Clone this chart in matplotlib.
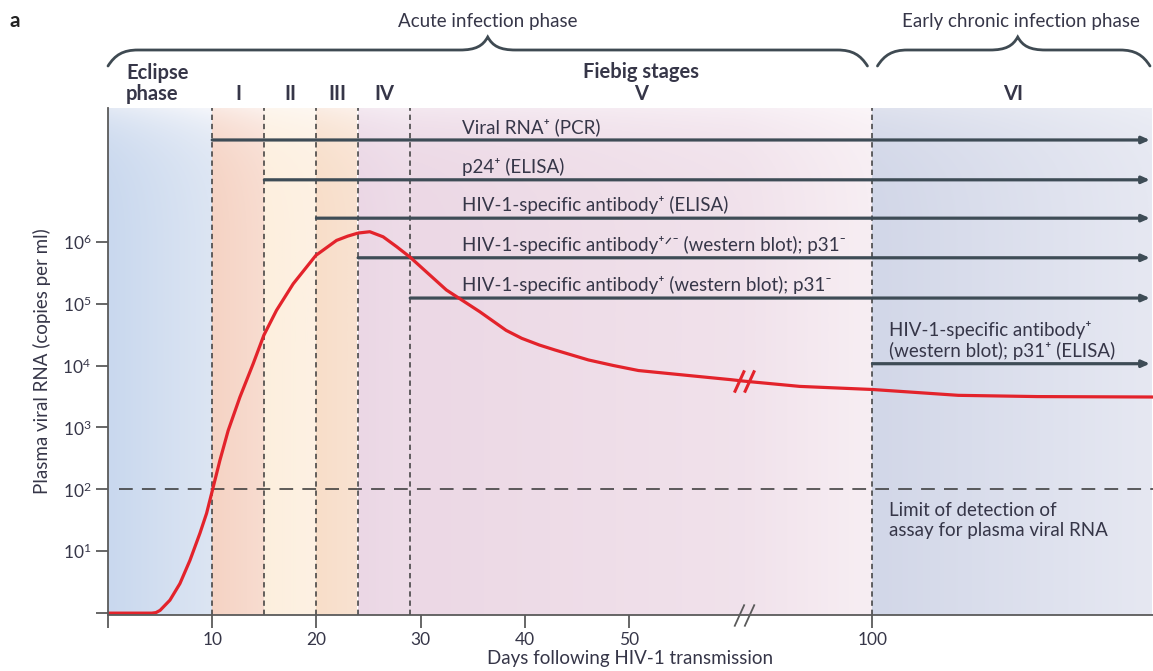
import numpy as np
import matplotlib
matplotlib.use('Agg')
import matplotlib.pyplot as plt
from matplotlib.path import Path
from matplotlib.patches import PathPatch
from matplotlib.colors import to_rgb
from matplotlib.ticker import NullLocator
import matplotlib.transforms as mtransforms

plt.rcParams['font.family'] = ['Lato', 'DejaVu Sans']
plt.rcParams['mathtext.fontset'] = 'custom'
plt.rcParams['mathtext.rm'] = 'Lato'
plt.rcParams['mathtext.it'] = 'Lato:italic'
plt.rcParams['mathtext.bf'] = 'Lato:bold'

# ---------------- data ----------------
days = [0, 4.2, 4.6, 5.0, 5.94, 6.9, 7.86, 8.82, 9.46, 10.04, 10.74, 11.53,
        12.66, 13.93, 14.96, 16.17, 17.77, 19.94, 21.93, 23.0, 24.0, 25.12,
        26.4, 27.7, 29.0, 30.56, 32.47, 34.1, 35.67, 38.2, 39.7, 41.4, 42.9,
        46.1, 48.5, 50.9, 55.7, 59.8, 61, 78, 100, 126, 150, 185]
viral_rna = [1, 1, 1.02, 1.11, 1.62, 3.0, 7.1, 19.5, 41, 100, 295, 890,
             3100, 10700, 31000, 78000, 209000, 600000, 1050000, 1230000,
             1380000, 1450000, 1200000, 830000, 560000, 324000, 166000,
             110000, 74000, 37000, 27500, 21400, 17800, 12300, 10000, 8300,
             6900, 5900, 5600, 4600, 4100, 3300, 3150, 3100]

stage_bounds = [0, 10, 15, 20, 24, 29, 100, 185]
stage_labels = ['Eclipse\nphase', 'I', 'II', 'III', 'IV', 'V', 'VI']

assay_labels = ['Viral RNA⁺ (PCR)',
                'p24⁺ (ELISA)',
                'HIV-1-specific antibody⁺ (ELISA)',
                'HIV-1-specific antibody⁺ᐟ⁻ (western blot); p31⁻',
                'HIV-1-specific antibody⁺ (western blot); p31⁻',
                'HIV-1-specific antibody⁺\n(western blot); p31⁺ (ELISA)']
assay_start = [10, 15, 20, 24, 29, 100]
assay_level = [4.4e7, 1.0e7, 2.4e6, 5.5e5, 1.23e5, 1.07e4]

detection_limit = 100
break_day = 61

x_ticks = [0, 10, 20, 30, 40, 50, 100]
x_tick_labels = ['', '10', '20', '30', '40', '50', '100']
y_ticks = [1, 1e1, 1e2, 1e3, 1e4, 1e5, 1e6]
y_tick_labels = ['', '10$^{1}$', '10$^{2}$', '10$^{3}$', '10$^{4}$', '10$^{5}$', '10$^{6}$']

phase_labels = ['Acute infection phase', 'Early chronic infection phase']

# ---------------- style ----------------
W, H = 1153, 671
TXT = '#363648'
AX = '#5a5a5a'
ARROW = '#3e4c56'
RED = '#e3232b'

stage_colors = [  # bottom-left, bottom-right, top-left, top-right
    ('#c9d8ee', '#dce5f3', '#e4eaf5', '#f6f7fb'),
    ('#f5d3c4', '#f8dcd0', '#fae9e2', '#fcf2ee'),
    ('#fdefde', '#fdf1e3', '#fef6ee', '#fef8f2'),
    ('#f8dec9', '#f9e2d1', '#fbede4', '#fcf2ec'),
    ('#ebd7e5', '#eedce8', '#f4e9f1', '#f6eef4'),
    ('#ecd8e5', '#f7eef3', '#f4e8f0', '#fbf6f9'),
    ('#d2d7e8', '#e6e8f2', '#dfe2ee', '#eceef5'),
]

BREAK = 61.0
K = 0.3167


def fwd(d):
    d = np.asarray(d, float)
    return np.where(d <= BREAK, d, BREAK + (d - BREAK) * K)


def inv(p):
    p = np.asarray(p, float)
    return np.where(p <= BREAK, p, BREAK + (p - BREAK) / K)


fig = plt.figure(figsize=(W / 100, H / 100), dpi=100)
ax = fig.add_axes([108 / W, 1 - 615 / H, 1 - 108 / W, (615 - 108) / H])
ax.set_xscale('function', functions=(fwd, inv))
ax.set_yscale('log')
ylo, yhi = 10 ** -0.03, 10 ** 8.16
xlo, xhi = stage_bounds[0], stage_bounds[-1]

# background gradients
n = 48
u = np.linspace(0, 1, n)[None, :, None]
v = np.linspace(0, 1, n)[:, None, None]
for (d0, d1), cols in zip(zip(stage_bounds[:-1], stage_bounds[1:]), stage_colors):
    bl, br, tl, tr = [np.array(to_rgb(c))[None, None, :] for c in cols]
    img = (1 - u) * (1 - v) * bl + u * (1 - v) * br + (1 - u) * v * tl + u * v * tr
    ax.imshow(img, extent=(d0, d1, ylo, yhi), origin='lower', aspect='auto',
              interpolation='bilinear', zorder=0)

ax.set_xlim(xlo, xhi)
ax.set_ylim(ylo, yhi)

# stage boundaries
for d in stage_bounds[1:-1]:
    ax.axvline(d, color='#3a3a3a', lw=1.1, dashes=(3.5, 2.5), zorder=2)

# detection limit
ax.axhline(detection_limit, xmin=0.011, color='#333333', lw=1.1, dashes=(9, 6), zorder=2)

# assay arrows
for lab, st, lvl in zip(assay_labels, assay_start, assay_level):
    ax.annotate('', xy=(0.997, lvl), xycoords=('axes fraction', 'data'),
                xytext=(st, lvl), textcoords='data',
                arrowprops=dict(arrowstyle='-|>,head_length=0.45,head_width=0.2',
                                color=ARROW, lw=2.3, shrinkA=0, shrinkB=0),
                zorder=3)
    tx = 34 if st < 100 else 105
    ax.annotate(lab, xy=(tx, lvl), xytext=(0, 3), textcoords='offset points',
                ha='left', va='bottom', fontsize=13.5, color=TXT,
                linespacing=1.15, zorder=5)

ax.annotate('Limit of detection of\nassay for plasma viral RNA', xy=(105, detection_limit),
            xytext=(0, -9), textcoords='offset points', ha='left', va='top',
            fontsize=13.5, color=TXT, linespacing=1.25, zorder=5)

# viral load curve
ax.plot(days, viral_rna, color=RED, lw=2.3, zorder=4, solid_capstyle='butt',
        solid_joinstyle='round')

# axis break marks
slash = Path([(-10, -11), (0, 11), (0, -11), (10, 11)],
             [Path.MOVETO, Path.LINETO, Path.MOVETO, Path.LINETO])
yb = 10 ** np.interp(break_day, days, np.log10(viral_rna))
ax.plot([break_day], [yb], marker=slash, markersize=16, color=RED, mew=2.2,
        linestyle='none', zorder=6)
ax.plot([break_day], [ylo], marker=slash, markersize=16, color=AX, mew=1.3,
        linestyle='none', zorder=6, clip_on=False)

# axes styling
for s in ('top', 'right'):
    ax.spines[s].set_visible(False)
for s in ('left', 'bottom'):
    ax.spines[s].set_color(AX)
    ax.spines[s].set_linewidth(1.3)
    ax.spines[s].set_zorder(7)
ax.set_xticks(x_ticks, x_tick_labels)
ax.set_yticks(y_ticks, y_tick_labels)
ax.xaxis.set_minor_locator(NullLocator())
ax.yaxis.set_minor_locator(NullLocator())
ax.tick_params(axis='both', direction='out', length=9, width=1.3, color=AX,
               labelsize=12.5, labelcolor=TXT)
ax.tick_params(axis='x', pad=3)
ax.tick_params(axis='y', pad=3)
ax.set_xlabel('Days following HIV-1 transmission', fontsize=13.5, color=TXT, labelpad=2)
ax.set_ylabel('Plasma viral RNA (copies per ml)', fontsize=13.5, color=TXT, labelpad=8)

# stage labels above plot
trans = mtransforms.blended_transform_factory(ax.transData, fig.transFigure)
for i, lab in enumerate(stage_labels):
    if i == 0:
        ax.annotate(lab, xy=(stage_bounds[0], 1 - 100 / H), xycoords=trans,
                    xytext=(13, 0), textcoords='offset points', ha='left',
                    va='baseline', fontsize=14.5, fontweight='bold', color=TXT,
                    linespacing=1.05)
    else:
        mid = float(inv((fwd(stage_bounds[i]) + fwd(stage_bounds[i + 1])) / 2))
        ax.text(mid, 1 - 100 / H, lab, transform=trans, ha='center', va='baseline',
                fontsize=14.5, fontweight='bold', color=TXT)
v_mid = float(inv((fwd(stage_bounds[5]) + fwd(stage_bounds[6])) / 2))
ax.text(v_mid, 1 - 78 / H, 'Fiebig stages', transform=trans, ha='center',
        va='baseline', fontsize=14.5, fontweight='bold', color=TXT)

# braces
fig.canvas.draw()


def xpix(d):
    return ax.transData.transform((d, 1))[0]


def brace(x0, x1, xm):
    yb_, yl, yt = 66, 50, 37
    pts = [(x0, yb_), (x0 + 7, 55), (x0 + 15, yl), (x0 + 30, yl),
           (xm - 28, yl),
           (xm - 12, yl), (xm - 5, 46), (xm, yt),
           (xm + 5, 46), (xm + 12, yl), (xm + 28, yl),
           (x1 - 30, yl),
           (x1 - 15, yl), (x1 - 7, 55), (x1, yb_)]
    codes = [Path.MOVETO, Path.CURVE4, Path.CURVE4, Path.CURVE4,
             Path.LINETO,
             Path.CURVE4, Path.CURVE4, Path.CURVE4,
             Path.CURVE4, Path.CURVE4, Path.CURVE4,
             Path.LINETO,
             Path.CURVE4, Path.CURVE4, Path.CURVE4]
    verts = [(x / W, 1 - y / H) for x, y in pts]
    fig.patches.append(PathPatch(Path(verts, codes), fill=False, ec='#3f4a52', lw=2.0,
                                 transform=fig.transFigure, capstyle='round'))


xa0, xa1 = xpix(stage_bounds[0]), xpix(stage_bounds[6]) - 5
xc0, xc1 = xpix(stage_bounds[6]) + 5, W - 3
brace(xa0, xa1, (xa0 + xa1) / 2)
brace(xc0, xc1, (xc0 + xc1) / 2 + 4)
fig.text(((xa0 + xa1) / 2) / W, 1 - 27 / H, phase_labels[0], ha='center', va='baseline',
         fontsize=13.5, color=TXT)
fig.text(((xc0 + xc1) / 2 + 7) / W, 1 - 27 / H, phase_labels[1], ha='center', va='baseline',
         fontsize=13.5, color=TXT)

fig.text(10 / W, 1 - 27 / H, 'a', fontsize=15, fontweight='bold', color='#222222')

fig.savefig('out.png', dpi=100)
